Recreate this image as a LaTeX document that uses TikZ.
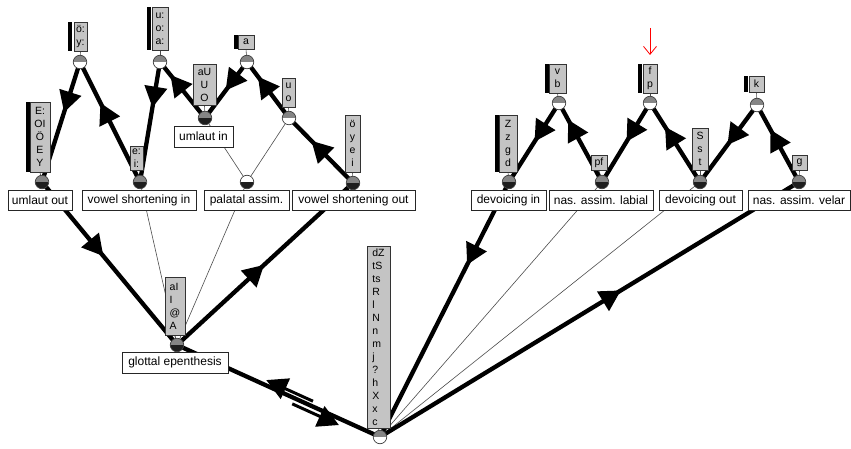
\documentclass[tikz,border=0pt]{standalone}
\usepackage{fontspec}
\setmainfont{Liberation Sans}
\usetikzlibrary{arrows.meta,decorations.markings,calc}
\newcommand\labfont{\fontsize{12}{14}\selectfont}
\newcommand\boxfont{\fontsize{10.5}{13}\selectfont}
\definecolor{midgray}{HTML}{858585}
\definecolor{nearblack}{HTML}{1E1E1E}
\definecolor{boxgray}{HTML}{C4C4C4}
\pgfdeclarelayer{bg}
\pgfsetlayers{bg,main}
\tikzset{
  hc/.style 2 args={circle, draw=black!75, line width=0.7pt, minimum size=13.5pt, inner sep=0pt,
    path picture={\fill[#1] (path picture bounding box.north west) rectangle (path picture bounding box.east);
                  \fill[#2] (path picture bounding box.west) rectangle (path picture bounding box.south east);}},
  gw/.style={hc={midgray}{white}},
  gb/.style={hc={midgray}{nearblack}},
  wb/.style={hc={white}{nearblack}},
  setbox/.style={draw=black!80, fill=boxgray, line width=0.7pt, inner sep=1pt, font=\boxfont, align=center},
  barbox/.style={fill=black, draw=none, inner sep=0pt, minimum width=4pt},
  labelbox/.style={draw=black!85, fill=white, line width=0.7pt, inner sep=2pt, font=\labfont, minimum height=20pt},
  thk/.style={line width=4.3pt, black},
  thn/.style={line width=0.6pt, black!70},
  bigtip/.style={-{Triangle[length=21pt,width=22pt]}},
  arr/.style={postaction={decorate}, decoration={markings, mark=at position #1 with {\arrow{Triangle[length=21pt,width=22pt]}}}},
}
\begin{document}
\begin{tikzpicture}[x=1pt,y=-1pt]
\useasboundingbox (0,0) rectangle (851,449);

% state circles
\node[gw] (cOEY) at (80,62) {};
\node[gw] (cUOA) at (160,62) {};
\node[gb] (cUmOut) at (42,182) {};
\node[gb] (cVSin) at (140,182) {};
\node[gb] (cUmIn) at (205,118) {};
\node[gw] (cA) at (247,62) {};
\node[gw] (cUO) at (289,118) {};
\node[wb] (cPal) at (247,182) {};
\node[gb] (cVSout) at (353,183) {};
\node[gb] (cDevIn) at (509,182) {};
\node[gw] (cVB) at (559,103) {};
\node[gb] (cLab) at (602,182) {};
\node[gw] (cFP) at (650,103) {};
\node[gb] (cDevOut) at (700,182) {};
\node[gw] (cK) at (757,105) {};
\node[gb] (cVel) at (799,182) {};
\node[gb] (cGlot) at (177,345) {};
\node[gw] (cBot) at (380,437) {};

% segment set boxes
\node[setbox, minimum width=13pt, minimum height=29pt] (bOEY) at (80.5,36.5) {ö:\\y:};
\node[setbox, minimum width=16pt, minimum height=43pt] (bUOA) at (160,28.5) {u:\\o:\\a:};
\node[setbox, minimum width=20pt, minimum height=70pt] (bEOY) at (40,137) {E:\\OI\\Ö\\E\\Y};
\node[setbox, minimum width=13pt, minimum height=24pt] (bEI) at (136.5,158.5) {e:\\i:};
\node[setbox, minimum width=23pt, minimum height=41pt] (bAUO) at (204.5,84.5) {aU\\U\\O};
\node[setbox, minimum width=16pt, minimum height=14pt] (bA) at (246,42) {a};
\node[setbox, minimum width=13pt, minimum height=29pt] (bUO) at (288.5,92.5) {u\\o};
\node[setbox, minimum width=15pt, minimum height=57pt] (bOYEI) at (352.5,143.5) {ö\\y\\e\\i};
\node[setbox, minimum width=18pt, minimum height=57pt] (bZZGD) at (508,143.5) {Z\\z\\g\\d};
\node[setbox, minimum width=17pt, minimum height=29pt] (bVB) at (557.5,78.5) {v\\b};
\node[setbox, minimum width=16pt, minimum height=15pt] (bPF) at (599,162.5) {pf};
\node[setbox, minimum width=14pt, minimum height=29pt] (bFP) at (650,78.5) {f\\p};
\node[setbox, minimum width=16pt, minimum height=42pt] (bSST) at (700,149) {S\\s\\t};
\node[setbox, minimum width=15pt, minimum height=16pt] (bK) at (756.5,84) {k};
\node[setbox, minimum width=15pt, minimum height=15pt] (bG) at (799.5,162.5) {g};
\node[setbox, align=left, minimum width=20pt, minimum height=58pt] (bAI) at (175,306) {aI\\I\\@\\A};
\node[setbox, align=left, minimum width=23pt, minimum height=182pt] (bBot) at (378.5,337) {dZ\\tS\\ts\\R\\l\\N\\n\\m\\j\\?\\h\\X\\x\\c};

% black bars
\node[barbox, minimum height=29pt] (kOEY) at (70,36.5) {};
\node[barbox, minimum height=43pt] (kUOA) at (148.5,28.5) {};
\node[barbox, minimum height=70pt] (kEOY) at (27.5,137) {};
\node[barbox, minimum height=14pt] (kA) at (235.5,42) {};
\node[barbox, minimum height=57pt] (kZZGD) at (496.5,143.5) {};
\node[barbox, minimum height=29pt] (kVB) at (546.5,78.5) {};
\node[barbox, minimum height=29pt] (kFP) at (639.5,78.5) {};
\node[barbox, minimum height=16pt] (kK) at (746,84) {};

% rule labels
\node[labelbox, minimum width=64pt] (lUmOut) at (40,200) {umlaut out};
\node[labelbox, minimum width=114pt] (lVSin) at (139,200) {vowel shortening in};
\node[labelbox, minimum width=85pt] (lPal) at (246.5,200) {palatal assim.};
\node[labelbox, minimum width=123pt] (lVSout) at (353.5,200) {vowel shortening out};
\node[labelbox, minimum width=59pt, minimum height=21pt] (lUmIn) at (203.5,136.5) {umlaut in};
\node[labelbox, minimum width=75pt] (lDevIn) at (508.5,200) {devoicing in};
\node[labelbox, minimum width=104pt] (lLab) at (601,200) {nas. assim. labial};
\node[labelbox, minimum width=83pt] (lDevOut) at (700.5,200) {devoicing out};
\node[labelbox, minimum width=102pt] (lVel) at (799,200) {nas. assim. velar};
\node[labelbox, minimum width=106pt, minimum height=21pt] (lGlot) at (175,362.5) {glottal epenthesis};

% red marker arrow
\coordinate (ra1) at (650,28);
\coordinate (ra2) at (650,55);
\draw[red, line width=0.8pt, -{Straight Barb[length=8pt,width=13pt]}] (ra1) -- (ra2);

\begin{pgfonlayer}{bg}
  % box-to-circle connectors
  \foreach \b/\c in {bOEY/cOEY, bUOA/cUOA, bEOY/cUmOut, bEI/cVSin, bAUO/cUmIn, bA/cA, bUO/cUO,
                     bOYEI/cVSout, bZZGD/cDevIn, bVB/cVB, bPF/cLab, bFP/cFP, bSST/cDevOut,
                     bK/cK, bG/cVel, bAI/cGlot, bBot/cBot}
    \draw[thn] (\b.south) -- (\c.center);
  % thin relations
  \draw[thn] (cVSin.center) -- (cGlot.center);
  \draw[thn] (cPal.center) -- (cGlot.center);
  \draw[thn] (cUmIn.center) -- (cPal.center);
  \draw[thn] (cUO.center) -- (cPal.center);
  \draw[thn] (cLab.center) -- (cBot.center);
  \draw[thn] (cDevOut.center) -- (cBot.center);
  % thick arrows, left group
  \draw[thk, arr=0.42] (cOEY.center) -- (cUmOut.center);
  \draw[thk, arr=0.66] (cVSin.center) -- (cOEY.center);
  \draw[thk, arr=0.38] (cUOA.center) -- (cVSin.center);
  \draw[thk, arr=0.77] (cUmIn.center) -- (cUOA.center);
  \draw[thk, arr=0.51] (cA.center) -- (cUmIn.center);
  \draw[thk, arr=0.74] (cUO.center) -- (cA.center);
  \draw[thk, arr=0.65] (cVSout.center) -- (cUO.center);
  % thick arrows, right group
  \draw[thk, arr=0.49] (cVB.center) -- (cDevIn.center);
  \draw[thk, arr=0.79] (cLab.center) -- (cVB.center);
  \draw[thk, arr=0.49] (cFP.center) -- (cLab.center);
  \draw[thk, arr=0.70] (cDevOut.center) -- (cFP.center);
  \draw[thk, arr=0.52] (cK.center) -- (cDevOut.center);
  \draw[thk, arr=0.68] (cVel.center) -- (cK.center);
  % thick arrows, lower part
  \draw[thk, arr=0.455] (cUmOut.center) -- (cGlot.center);
  \draw[thk, arr=0.495] (cGlot.center) -- (cVSout.center);
  \draw[thk, arr=0.325] (cDevIn.center) -- (cBot.center);
  \draw[thk, arr=0.575] (cBot.center) -- (cVel.center);
  % double connection glottal epenthesis <-> bottom state
  \draw[thk] (cGlot.center) -- (cBot.center);
  \draw[line width=3pt, bigtip]
    ($(cGlot.center)!0.66!(cBot.center)+(2,-4.5)$) -- ($(cGlot.center)!0.43!(cBot.center)+(2,-4.5)$);
  \draw[line width=3pt, bigtip]
    ($(cGlot.center)!0.58!(cBot.center)+(-2.5,5.5)$) -- ($(cGlot.center)!0.81!(cBot.center)+(-2.5,5.5)$);
\end{pgfonlayer}
\end{tikzpicture}
\end{document}
